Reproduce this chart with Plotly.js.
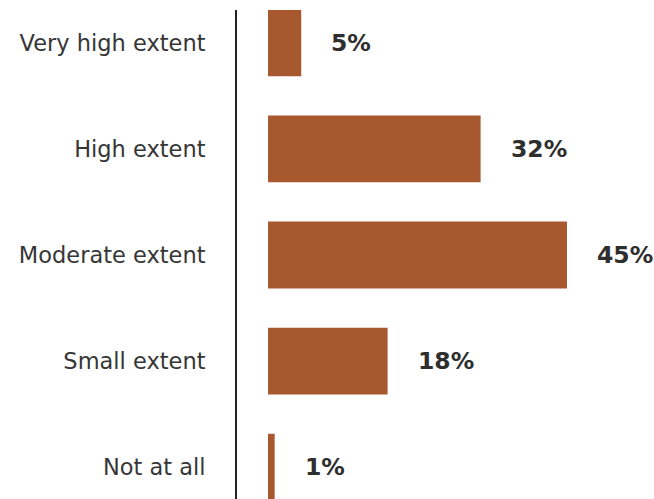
<!DOCTYPE html>
<html>
<head>
<meta charset="utf-8">
<script src="https://cdn.plot.ly/plotly-3.0.1.min.js"></script>
<style>html,body{margin:0;padding:0;background:#fff;}#chart{width:654px;height:499px;}</style>
</head>
<body>
<div id="chart"></div>
<script>
const categories = ["Very high extent", "High extent", "Moderate extent", "Small extent", "Not at all"];
const values = [5, 32, 45, 18, 1];
const valueLabels = ["5%", "32%", "45%", "18%", "1%"];

const barColor = "#A8582E";

const trace = {
  type: "bar",
  orientation: "h",
  x: values,
  y: categories,
  marker: {color: barColor},
  hoverinfo: "none"
};

const annotations = values.map((v, i) => ({
  x: v,
  y: categories[i],
  xref: "x",
  yref: "y",
  text: valueLabels[i],
  showarrow: false,
  xanchor: "left",
  yanchor: "middle",
  xshift: 28,
  font: {family: "DejaVu Sans, sans-serif", size: 23.5, color: "#2e2e2e", weight: 700}
}));

const layout = {
  width: 654,
  height: 499,
  margin: {l: 237, r: 0, t: 10, b: 0, pad: 0},
  paper_bgcolor: "#ffffff",
  plot_bgcolor: "#ffffff",
  showlegend: false,
  bargap: 0.37,
  xaxis: {
    range: [-4.67, 58.1],
    showgrid: false,
    zeroline: false,
    showline: false,
    showticklabels: false,
    ticks: ""
  },
  yaxis: {
    type: "category",
    categoryorder: "array",
    categoryarray: categories,
    range: [4.3, -0.31],
    showgrid: false,
    zeroline: false,
    showline: true,
    linecolor: "#222222",
    linewidth: 2,
    ticks: "",
    ticklabelstandoff: 25,
    tickfont: {family: "DejaVu Sans, sans-serif", size: 22.5, color: "#363636"}
  },
  annotations: annotations
};

Plotly.newPlot("chart", [trace], layout, {displayModeBar: false, staticPlot: true});
</script>
</body>
</html>
